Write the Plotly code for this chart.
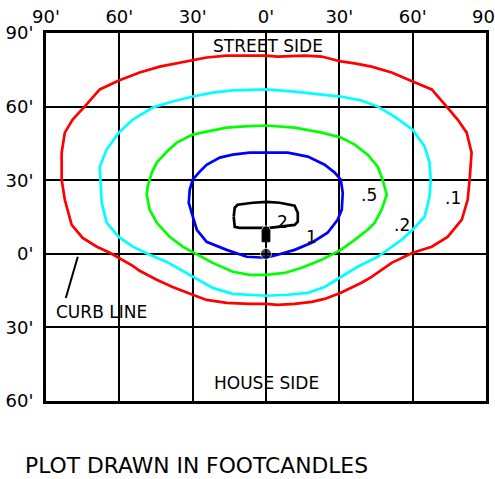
import plotly.graph_objects as go

# Isofootcandle contours (feet from pole; +y toward street)
red_x = [0, 4.8, 15.8, 22.8, 30.6, 36.3, 43.2, 51.4, 60.0, 67.8, 73.9, 78.4, 82.1, 84.1, 83.3, 82.5,
         80.1, 74.3, 67.8, 60.0, 51.4, 43.2, 39.1, 30.6, 24.0, 18.7, 11.7, 4.8, -0.1, -6.7, -16.1,
         -24.3, -30.0, -38.2, -44.7, -51.7, -54.5, -63.9, -69.2, -75.0, -79.5, -82.3, -83.6, -83.6,
         -82.3, -79.1, -74.2, -68.0, -60.2, -51.7, -43.5, -35.3, -30.0, -24.3, -16.1, -6.7, 0]
red_y = [80.8, 80.4, 80.8, 80.4, 78.4, 77.6, 76.3, 73.9, 70.2, 67.0, 60.0, 54.7, 49.4, 41.2, 30.2, 22.0,
         13.9, 6.9, 2.9, 0.4, -3.7, -9.4, -11.8, -15.9, -18.4, -19.6, -20.4, -20.8, -20.4, -20.4, -20.0,
         -18.8, -16.7, -13.5, -10.6, -6.9, -4.9, 0.4, 2.9, 6.5, 11.8, 22.0, 30.2, 41.2,
         49.4, 54.7, 60.0, 67.0, 70.6, 73.9, 76.3, 78.0, 78.8, 80.0, 80.8, 80.8, 80.8]

cyan_x = [0, 11.7, 22.8, 30.6, 39.1, 45.7, 52.6, 60.0, 64.9, 66.9, 67.4, 66.9, 64.9, 60.0, 55.5, 49.8,
          45.7, 37.5, 30.6, 24.0, 17.1, 8.9, 0, -8.7, -13.6, -21.8, -30.0, -40.6, -47.6, -54.5, -60.2,
          -65.2, -67.2, -67.6, -68.0, -65.2, -60.2, -54.5, -46.3, -38.2, -30.0, -21.8, -13.6, 0]
cyan_y = [67.0, 66.1, 64.9, 64.1, 62.5, 60.0, 55.9, 50.6, 43.7, 37.2, 30.2, 23.3, 15.1, 9.8, 5.7, 1.6,
          -1.2, -5.3, -9.4, -13.5, -15.9, -16.7, -17.1, -16.7, -16.3, -13.9, -9.4, -3.3, -0.4, 2.9, 6.9,
          12.7, 20.8, 30.2, 35.5, 42.5, 49.4, 54.7, 59.6, 62.1, 64.1, 65.7, 66.6, 67.0]

green_x = [0, 11.7, 22.8, 30.6, 36.3, 41.6, 45.7, 47.7, 49.4, 47.3, 44.5, 41.6, 36.3, 30.6, 22.8, 14.6,
           7.6, 0, -6.7, -13.6, -21.8, -30.0, -34.1, -39.4, -44.7, -47.6, -48.8, -48.4, -46.7, -44.7,
           -40.6, -36.5, -30.0, -24.3, -16.1, -8.7, 0]
green_y = [52.3, 51.4, 49.4, 47.4, 44.5, 40.4, 35.5, 30.2, 24.1, 18.0, 12.7, 9.8, 5.7, 1.6, -2.4, -5.7,
           -7.8, -8.6, -8.6, -7.3, -3.7, 0.8, 2.9, 6.9, 12.7, 18.0, 24.1, 27.4, 33.1, 37.2,
           41.6, 45.3, 48.6, 49.8, 51.4, 51.9, 52.3]

blue_x = [0, 8.9, 17.1, 24.0, 28.1, 30.6, 31.4, 31.0, 29.3, 25.2, 18.7, 11.7, 4.8, 0, -7.9, -16.1,
          -24.3, -28.3, -30.4, -31.6, -31.2, -30.0, -27.1, -24.3, -18.9, -13.6, -6.7, 0]
blue_y = [41.2, 41.2, 39.6, 36.3, 33.1, 30.2, 24.9, 18.0, 13.9, 8.6, 4.5, 1.6, -0.4, -1.6, -1.2, 1.6,
          4.9, 9.8, 16.7, 20.8, 26.1, 30.2, 33.5, 36.3, 39.2, 40.4, 41.2, 41.2]

black_x = [-13.2, -12.8, -11.6, -5.4, 0.3, 5.6, 11.7, 13.0, 13.0, 11.7, 1.5, -10.8, -12.8, -13.2]
black_y = [15.1, 18.8, 20.0, 20.8, 21.2, 20.8, 19.6, 16.7, 13.1, 11.8, 10.6, 10.6, 11.0, 15.1]

contour_levels = [".1", ".2", ".5", "1", "2"]
contour_colors = ["#ff0000", "#00ffff", "#00ff00", "#0000ff", "#000000"]
label_x = [76.3, 55.5, 42.0, 18.7, 6.8]
label_y = [22.9, 11.8, 24.1, 6.9, 13.1]

# Pole and fixture
pole_x = [0, 0]
pole_y = [10.6, 0]
arm_top = 9.8
arm_bottom = 4.9
arm_half_width = 1.6

# Curb-line leader
curb_x = [-77.0, -81.9]
curb_y = [-1.2, -18.0]

# Axes
x_ticks = [-90, -60, -30, 0, 30, 60, 90]
x_tick_text = ["90'", "60'", "30'", "0'", "30'", "60'", "90'"]
y_ticks = [-60, -30, 0, 30, 60, 90]
y_tick_text = ["60'", "30'", "0'", "30'", "60'", "90'"]

FONT = "DejaVu Sans, Verdana, sans-serif"

fig = go.Figure()

contours = [(red_x, red_y), (cyan_x, cyan_y), (green_x, green_y), (blue_x, blue_y), (black_x, black_y)]
for (cx, cy), color, lvl in zip(contours, contour_colors, contour_levels):
    fig.add_trace(go.Scatter(x=cx, y=cy, mode="lines", name=lvl,
                             line=dict(color=color, width=2.7), hoverinfo="skip"))

fig.add_trace(go.Scatter(x=pole_x, y=pole_y, mode="lines",
                         line=dict(color="black", width=2), hoverinfo="skip"))
fig.add_shape(type="rect", x0=-arm_half_width, x1=arm_half_width, y0=arm_bottom, y1=arm_top,
              fillcolor="black", line=dict(color="black", width=1))
fig.add_trace(go.Scatter(x=pole_x, y=[arm_top, 0], mode="markers",
                         marker=dict(color="black", size=[8, 11]), hoverinfo="skip"))
fig.add_trace(go.Scatter(x=curb_x, y=curb_y, mode="lines",
                         line=dict(color="black", width=2), hoverinfo="skip"))

for lx, ly, txt in zip(label_x, label_y, contour_levels):
    fig.add_annotation(x=lx, y=ly, text=txt, showarrow=False,
                       font=dict(family=FONT, size=17, color="black"))

fig.add_annotation(x=0.7, y=84.9, text="STREET SIDE", showarrow=False,
                   font=dict(family=FONT, size=17, color="black"))
fig.add_annotation(x=0.3, y=-52.7, text="HOUSE SIDE", showarrow=False,
                   font=dict(family=FONT, size=17, color="black"))
fig.add_annotation(x=-67.2, y=-23.7, text="CURB LINE", showarrow=False,
                   font=dict(family=FONT, size=17, color="black"))
fig.add_annotation(x=-0.052, y=-0.175, xref="paper", yref="paper", xanchor="left", yanchor="middle",
                   text="PLOT DRAWN IN FOOTCANDLES", showarrow=False,
                   font=dict(family=FONT, size=21.8, color="black"))

fig.update_layout(
    width=495, height=479,
    margin=dict(l=46, r=9, t=33, b=78, autoexpand=False),
    paper_bgcolor="white", plot_bgcolor="white",
    showlegend=False,
    xaxis=dict(range=[-90, 90], side="top", tickvals=x_ticks, ticktext=x_tick_text,
               showgrid=True, gridcolor="black", gridwidth=2, zeroline=False,
               showline=True, linecolor="black", linewidth=3, mirror=True,
               ticks="", ticklabelstandoff=0, automargin=False, ticklabeloverflow="allow",
               tickfont=dict(family=FONT, size=18, color="black"), fixedrange=True),
    yaxis=dict(range=[-60, 90], tickvals=y_ticks, ticktext=y_tick_text,
               showgrid=True, gridcolor="black", gridwidth=2, zeroline=False,
               showline=True, linecolor="black", linewidth=3, mirror=True,
               ticks="", ticklabelstandoff=6, automargin=False, ticklabeloverflow="allow",
               tickfont=dict(family=FONT, size=18, color="black"), fixedrange=True),
)

fig.write_html("out.html")
